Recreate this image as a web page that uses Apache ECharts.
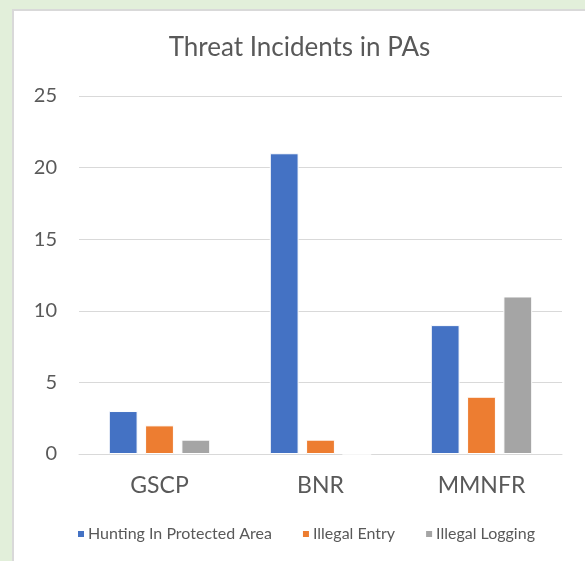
<!DOCTYPE html>
<html>
<head>
<meta charset="utf-8">
<script src="https://cdn.jsdelivr.net/npm/echarts@6/dist/echarts.min.js"></script>
<style>
  html, body { margin: 0; padding: 0; background: #e2efda; }
  #panel {
    position: absolute; left: 12px; top: 9px; width: 573px; height: 552px;
    background: #fff; border-left: 2px solid #d9d9d9; border-top: 2px solid #d9d9d9;
    box-sizing: border-box;
  }
  #chart { width: 571px; height: 550px; }
</style>
</head>
<body>
<div id="panel"><div id="chart"></div></div>
<script>
const categories = ['GSCP', 'BNR', 'MMNFR']
const huntingValues = [3, 21, 9]
const entryValues = [2, 1, 4]
const loggingValues = [1, 0, 11]
const seriesNames = ['Hunting In Protected Area', 'Illegal Entry', 'Illegal Logging']
const colors = ['#4472c4', '#ed7d31', '#a5a5a5']
const font = 'Lato, "Open Sans", sans-serif'

const makeBar = (name, data, i) => ({
  name,
  type: 'bar',
  data,
  color: colors[i],
  barGap: '26%',
  barCategoryGap: '37%',
  itemStyle: { borderColor: '#ffffff', borderWidth: 1 },
})

const chart = echarts.init(document.getElementById('chart'))
chart.setOption({
  animation: false,
  title: {
    text: 'Threat Incidents in PAs',
    left: 'center',
    top: 19,
    textStyle: { color: '#595959', fontFamily: font, fontSize: 26, fontWeight: 'normal' },
  },
  legend: {
    bottom: 14,
    left: 57,
    itemWidth: 8,
    itemHeight: 8,
    itemGap: 29,
    icon: 'rect',
    textStyle: { color: '#595959', fontFamily: font, fontSize: 16, padding: [0, 0, 0, -2] },
  },
  grid: { left: 65, top: 85, width: 483, height: 358 },
  xAxis: {
    type: 'category',
    data: categories,
    axisLine: { lineStyle: { color: '#d9d9d9', width: 1 } },
    axisTick: { show: false },
    axisLabel: { color: '#595959', fontFamily: font, fontSize: 23, margin: 20 },
  },
  yAxis: {
    type: 'value',
    min: 0,
    max: 25,
    interval: 5,
    axisLine: { show: false },
    axisTick: { show: false },
    axisLabel: { color: '#595959', fontFamily: font, fontSize: 20, margin: 22 },
    splitLine: { lineStyle: { color: '#d9d9d9', width: 1 } },
  },
  series: [
    makeBar(seriesNames[0], huntingValues, 0),
    makeBar(seriesNames[1], entryValues, 1),
    makeBar(seriesNames[2], loggingValues, 2),
  ],
})
</script>
</body>
</html>
